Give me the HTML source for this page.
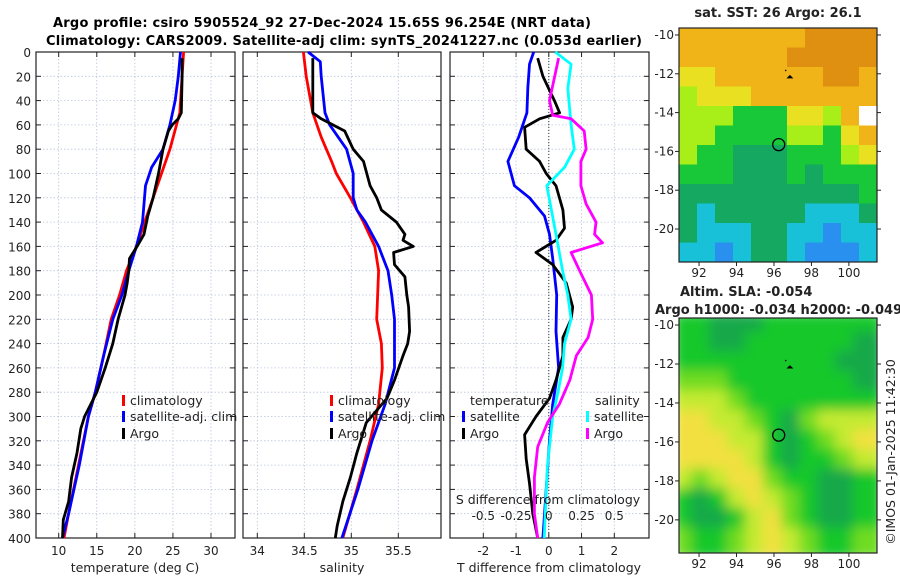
<!DOCTYPE html>
<html><head><meta charset="utf-8"><style>
html,body{margin:0;padding:0;background:#fff;}
svg{display:block;font-family:"DejaVu Sans","Liberation Sans",sans-serif;}
</style></head><body>
<svg id="chart" width="900" height="580" viewBox="0 0 900 580" xmlns="http://www.w3.org/2000/svg">
<text x="53" y="27" font-size="13" font-weight="bold" textLength="538">Argo profile: csiro 5905524_92 27-Dec-2024 15.65S 96.254E (NRT data)</text>
<text x="46" y="45" font-size="13" font-weight="bold" textLength="596">Climatology: CARS2009. Satellite-adj clim: synTS_20241227.nc (0.053d earlier)</text>
<g id="g"></g>
</svg>
<script>
// ---- data ----
const tClimDepth=[0,50,80,100,120,140,160,180,200,220,250,280,300,340,380,400];
const tClim=[26.4,25.9,24.6,23.5,22.4,21.3,20.2,18.9,18.0,16.9,15.9,14.8,13.9,12.6,11.3,10.7];
const tSatDepth=[0,20,40,60,80,95,110,140,160,180,200,220,250,280,300,340,380,400];
const tSat=[26.0,25.7,25.3,24.6,23.7,22.2,21.4,21.0,20.2,19.2,18.3,17.1,15.9,14.8,13.9,12.7,11.3,10.5];
const tArgoDepth=[5,20,50,55,60,65,80,100,120,135,150,160,170,180,190,200,220,240,260,280,300,310,330,350,370,385,400];
const tArgo=[26.2,26.2,26.1,25.7,24.9,24.4,23.7,23.1,22.4,21.7,21.2,20.3,19.3,19.2,19.0,18.7,17.8,17.1,16.1,15.0,13.4,12.9,12.4,11.7,11.3,10.6,10.5];
const sClimDepth=[0,20,50,70,90,100,120,140,160,180,220,240,260,290,320,360,400];
const sClim=[34.49,34.52,34.59,34.68,34.79,34.84,34.99,35.13,35.25,35.29,35.27,35.32,35.33,35.29,35.20,35.06,34.91];
const sSatDepth=[0,8,20,50,60,80,100,120,130,140,160,180,200,220,260,290,320,360,400];
const sSat=[34.54,34.67,34.68,34.72,34.77,34.95,35.02,35.02,35.06,35.15,35.29,35.39,35.43,35.46,35.46,35.36,35.22,35.07,34.90];
const sArgoDepth=[5,50,55,65,80,90,110,120,130,140,150,155,160,165,175,185,200,210,230,240,250,270,285,305,330,350,370,390,400];
const sArgo=[34.59,34.59,34.68,34.93,35.02,35.13,35.20,35.27,35.32,35.48,35.57,35.55,35.66,35.45,35.46,35.57,35.59,35.61,35.62,35.60,35.55,35.46,35.38,35.16,35.06,34.99,34.91,34.85,34.83];
const dtSatDepth=[0,10,30,50,70,90,110,120,135,150,170,200,230,260,290,320,360,400];
const dtSat=[-0.46,-0.59,-0.64,-0.67,-0.92,-1.25,-1.05,-0.59,-0.13,0.02,0.12,0.24,0.22,0.30,0.12,0.02,-0.08,-0.18];
const dtArgoDepth=[5,20,40,50,55,62,80,90,100,110,130,145,155,165,175,190,210,220,235,250,270,285,300,315,335,355,380,400];
const dtArgo=[-0.34,-0.18,0.17,0.33,-0.28,-0.74,-0.69,-0.28,-0.08,0.22,0.43,0.48,0.22,-0.39,0.12,0.53,0.73,0.68,0.43,0.43,0.22,0.02,-0.39,-0.74,-0.69,-0.59,-0.49,-0.34];
const dsSatDepth=[0,10,30,60,80,95,110,130,150,180,200,220,240,260,280,300,340,400];
const dsSat=[0.05,0.17,0.145,0.17,0.195,0.12,-0.015,0.02,0.055,0.105,0.145,0.17,0.12,0.105,0.07,0.03,-0.01,-0.035];
const dsArgoDepth=[5,20,40,52,55,65,80,90,110,125,140,150,157,165,180,200,220,235,250,270,290,305,325,350,380,400];
const dsArgo=[0.075,0.045,0.005,0.03,0.17,0.27,0.285,0.245,0.245,0.285,0.36,0.35,0.41,0.17,0.235,0.325,0.335,0.30,0.21,0.16,0.08,-0.01,-0.085,-0.11,-0.11,-0.085];
const depthTicks=[0,20,40,60,80,100,120,140,160,180,200,220,240,260,280,300,320,340,360,380,400];
const tTicks=[10,15,20,25,30];
const sTicks=[34,34.5,35,35.5];
const dTTicks=[-2,-1,0,1,2];
const dSTicks=[-0.5,-0.25,0,0.25,0.5];
const lonTicks=[92,94,96,98,100];
const latTicks=[-10,-12,-14,-16,-18,-20];
const sstGrid=[
[4,4,4,4,4,4,4,5,5,5,5],[4,4,4,4,4,4,5,5,5,5,5],[3,3,4,4,4,4,4,4,5,5,4],[2,3,3,3,4,4,4,4,4,4,4],
[2,2,2,1,1,1,3,3,2,4,6],[2,2,1,1,1,1,2,2,1,3,4],[2,1,1,0,0,0,1,1,1,2,3],[1,1,1,0,0,0,1,0,1,1,1],
[0,0,0,0,0,0,0,0,0,0,1],[0,-1,0,0,0,0,0,-1,-1,-1,0],[0,-1,-1,-1,0,0,-1,-1,-2,-1,-1],[-1,-1,-2,-1,0,0,-1,-2,-2,-2,-1]];
const slaGrid=[
[1,1,0,0,0,1,1,1,1,1,1],[1,1,0,0,1,1,1,1,1,1,0],[1,1,1,1,1,1,1,1,1,0,0],[2,2,2,1,1,1,1,1,1,1,0],
[3,3,3,2,1,1,1,1,1,1,1],[4,4,3,3,2,1,0,2,3,3,3],[4,4,4,3,3,1,0,1,2,3,4],[4,4,4,4,3,1,0,1,1,2,3],
[3,2,3,4,4,2,1,1,0,0,1],[1,0,1,3,4,3,2,1,0,0,1],[1,0,0,1,3,4,2,1,0,0,1],[2,1,1,2,3,4,3,2,1,1,2]];
const argoLon=96.254, argoLat=-15.65;

// ---- drawing ----
const NS="http://www.w3.org/2000/svg";
const G=document.getElementById('g');
function el(t,a,p){const e=document.createElementNS(NS,t);for(const k in a)e.setAttribute(k,a[k]);(p||G).appendChild(e);return e;}
const Y0=52,Y1=538;
const yD=d=>Y0+(d/400)*(Y1-Y0);
function lin(d0,d1,r0,r1){return v=>r0+(v-d0)/(d1-d0)*(r1-r0);}
function panel(x0,x1,name,xTicks,xs,fmt){
  const g=el('g',{});
  
  
  depthTicks.forEach(d=>{
    const l=el('line',{x1:x0,x2:x1,y1:yD(d),y2:yD(d),stroke:'#b8c4dc','stroke-width':0.8,'stroke-dasharray':'1.5,2'},g);
    
    el('line',{x1:x0,x2:x0+5,y1:yD(d),y2:yD(d),stroke:'#222'},g);
    el('line',{x1:x1-5,x2:x1,y1:yD(d),y2:yD(d),stroke:'#222'},g);
  });
  xTicks.forEach(t=>{
    const x=xs(t);
    const l=el('line',{x1:x,x2:x,y1:Y0,y2:Y1,stroke:'#b8c4dc','stroke-width':0.8,'stroke-dasharray':'1.5,2'},g);
    
    el('line',{x1:x,x2:x,y1:Y1,y2:Y1-5,stroke:'#222'},g);
    el('line',{x1:x,x2:x,y1:Y0,y2:Y0+5,stroke:'#222'},g);
    if(fmt){const tx=el('text',{x:x,y:555,'font-size':12,'text-anchor':'middle',fill:'#222'},g);tx.textContent=fmt(t);
      }
  });
  const r=el('rect',{x:x0,y:Y0,width:x1-x0,height:Y1-Y0,fill:'none',stroke:'#222','stroke-width':1.2},g);
  
  return g;
}
function series(depths,vals,xs,color,name,g){
  const p=el('polyline',{points:depths.map((d,i)=>xs(vals[i]).toFixed(1)+','+yD(d).toFixed(1)).join(' '),fill:'none',stroke:color,'stroke-width':2.8,'stroke-linejoin':'round'},g);
  
  
}
function txt(x,y,s,size,name,opt){
  const t=el('text',Object.assign({x:x,y:y,'font-size':size,fill:'#222'},opt||{}));
  t.textContent=s;
  
  
  return t;
}
function legend(x,y,color,label,name){
  const m=el('rect',{x:x,y:y-10,width:3,height:11,fill:color});
  
  txt(x+8,y,label,12.5,name);
}
depthTicks.forEach(d=>txt(31,yD(d)+5,String(d),12,'y-tick-label',{'text-anchor':'end'}));

// panel 1 temperature
const xT=lin(10,30,58.7,211);
const g1=panel(36,235,'temperature-panel',tTicks,xT,String);
series(tClimDepth,tClim,xT,'#f00','temp-climatology-line',g1);
series(tSatDepth,tSat,xT,'#00f','temp-satellite-line',g1);
series(tArgoDepth,tArgo,xT,'#000','temp-argo-line',g1);
txt(135,572,'temperature (deg C)',12.5,'x-axis-title-temperature',{'text-anchor':'middle'});
legend(122,405,'#f00','climatology','legend-climatology');
legend(122,421,'#00f','satellite-adj. clim','legend-satellite');
legend(122,438,'#000','Argo','legend-argo');

// panel 2 salinity
const xS=lin(34,35.5,257.3,398.3);
const g2=panel(243,441,'salinity-panel',sTicks,xS,String);
series(sClimDepth,sClim,xS,'#f00','sal-climatology-line',g2);
series(sSatDepth,sSat,xS,'#00f','sal-satellite-line',g2);
series(sArgoDepth,sArgo,xS,'#000','sal-argo-line',g2);
txt(342,572,'salinity',12.5,'x-axis-title-salinity',{'text-anchor':'middle'});
legend(330,405,'#f00','climatology','legend-climatology-2');
legend(330,421,'#00f','satellite-adj. clim','legend-satellite-2');
legend(330,438,'#000','Argo','legend-argo-2');

// panel 3 differences
const xDT=lin(0,2,548.8,614.3);
const xDS=v=>xDT(v*4);
const g3=panel(450,649,'difference-panel',dTTicks,xDT,String);
const zl=el('line',{x1:xDT(0),x2:xDT(0),y1:Y0,y2:Y1,stroke:'#333','stroke-width':1,'stroke-dasharray':'1,2'},g3);

series(dtSatDepth,dtSat,xDT,'#00f','dT-satellite-line',g3);
series(dtArgoDepth,dtArgo,xDT,'#000','dT-argo-line',g3);
series(dsSatDepth,dsSat,xDS,'#0ff','dS-satellite-line',g3);
series(dsArgoDepth,dsArgo,xDS,'#f0f','dS-argo-line',g3);
txt(549,572,'T difference from climatology',12.5,'x-axis-title-T-diff',{'text-anchor':'middle'});
txt(548,504,'S difference from climatology',12.5,'secondary-axis-title-S-diff',{'text-anchor':'middle'});
dSTicks.forEach(t=>txt(xDS(t),520,String(t),12,'secondary-tick-label',{'text-anchor':'middle'}));
txt(470,405,'temperature',12.5,'legend-title-temperature');
txt(595,405,'salinity',12.5,'legend-title-salinity');
legend(462,421,'#00f','satellite','legend-dT-satellite');
legend(462,438,'#000','Argo','legend-dT-argo');
legend(586,421,'#0ff','satellite','legend-dS-satellite');
legend(586,438,'#f0f','Argo','legend-dS-argo');

// maps
const sstCol={'-2':'#2a90f0','-1':'#18c0d8','0':'#14a860','1':'#18c838','2':'#a8ee18','3':'#e8e020','4':'#f0b418','5':'#e09010','6':'#ffffff'};
const slaCol={'0':'#16a848','1':'#14c82a','2':'#70dc20','3':'#c4ea30','4':'#f2e040'};
function map(y0,y1,latTop,latBot,grid,cols,name,blur){
  const x0=679,x1=877,lonL=90.93,lonR=101.5;
  const xs=lin(lonL,lonR,x0,x1), ys=lin(latTop,latBot,y0,y1);
  const g=el('g',{});
  
  
  const cid=name+'-clip';
  const cp=el('clipPath',{id:cid},g);el('rect',{x:x0,y:y0,width:x1-x0,height:y1-y0},cp);
  const inner=el('g',{'clip-path':'url(#'+cid+')'},g);
  const ig=el('g',blur?{filter:'url(#bl)'}:{},inner);
  const nr=grid.length,nc=grid[0].length,cw=(x1-x0)/nc,ch=(y1-y0)/nr;
  grid.forEach((row,i)=>row.forEach((v,j)=>{
    const r=el('rect',{x:x0+j*cw-(blur?6:0),y:y0+i*ch-(blur?6:0),width:cw+(blur?12:0.6),height:ch+(blur?12:0.6),fill:cols[v]},ig);
    
  }));
  const c=el('circle',{cx:xs(argoLon),cy:ys(argoLat),r:6,fill:'none',stroke:'#000','stroke-width':1.3},g);
  
  el('path',{d:`M${xs(96.6)} ${ys(-11.8)} l1 1 M${xs(96.85)} ${ys(-12.1)} l2 2 l-4 0 z`,stroke:'#000','stroke-width':1.2,fill:'#000'},g);
  el('rect',{x:x0,y:y0,width:x1-x0,height:y1-y0,fill:'none',stroke:'#222','stroke-width':1.2},g);
  lonTicks.forEach(t=>{el('line',{x1:xs(t),x2:xs(t),y1:y1,y2:y1+4,stroke:'#222'},g);
    txt(xs(t),y1+15,String(t),12,'map-lon-tick-label',{'text-anchor':'middle'});});
  latTicks.forEach(t=>{el('line',{x1:x0-4,x2:x0,y1:ys(t),y2:ys(t),stroke:'#222'},g);el('line',{x1:x1,x2:x1+4,y1:ys(t),y2:ys(t),stroke:'#222'},g);
    txt(x0-5,ys(t)+4,String(t),12,'map-lat-tick-label',{'text-anchor':'end'});});
}
const defs=el('defs',{});const f=el('filter',{id:'bl',x:'-10%',y:'-10%',width:'120%',height:'120%'},defs);el('feGaussianBlur',{stdDeviation:6},f);
map(28,262,-9.64,-21.7,sstGrid,sstCol,'sst-map',false);
map(318,553,-9.64,-21.7,slaGrid,slaCol,'sla-map',true);
txt(778,17,'sat. SST: 26 Argo: 26.1',13,'sst-map-title',{'text-anchor':'middle','font-weight':'bold'});
txt(680,296,'Altim. SLA: -0.054',13,'sla-map-title',{'font-weight':'bold'});
txt(655,314,'Argo h1000: -0.034 h2000: -0.049',13,'sla-map-subtitle',{'font-weight':'bold'});
txt(0,0,'©IMOS 01-Jan-2025 11:42:30',12.5,'timestamp-credit',{'text-anchor':'middle',transform:'translate(895,452) rotate(-90)'});
</script>
</body></html>
